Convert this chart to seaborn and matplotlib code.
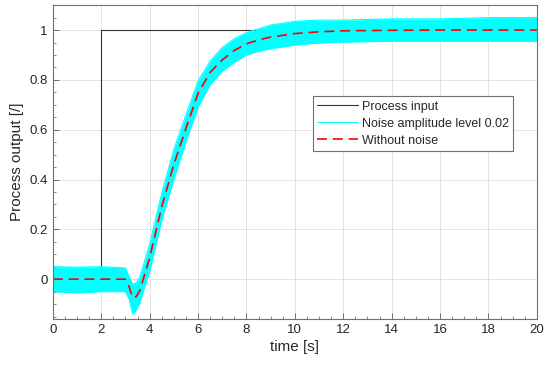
import matplotlib
matplotlib.use('Agg')
import matplotlib.pyplot as plt
import pandas as pd
import seaborn as sns

# Process input (unit step at t = 2 s)
t_input = [0, 2, 20]
u_input = [0, 1, 1]

# Process output without noise
t_out = [0, 1, 2, 3.0, 3.15, 3.3, 3.45, 3.6, 3.8, 4.0, 4.5, 5.0, 5.5, 6.0,
         6.5, 7.0, 7.5, 8.0, 8.5, 9.0, 10, 11, 12, 14, 16, 18, 20]
y_clean = [0, 0, 0, 0, -0.03, -0.075, -0.07, -0.045, 0.02, 0.085, 0.29, 0.46,
           0.605, 0.745, 0.83, 0.88, 0.918, 0.945, 0.96, 0.972, 0.986, 0.993,
           0.997, 0.999, 1.0, 1.0, 1.0]

# Envelope of the noisy output (noise amplitude level 0.02)
y_noise_hi = [0.05, 0.048, 0.05, 0.045, 0.01, -0.02, -0.015, 0.01, 0.075, 0.14,
              0.345, 0.52, 0.66, 0.795, 0.875, 0.93, 0.965, 0.99, 1.005, 1.02,
              1.035, 1.04, 1.04, 1.045, 1.045, 1.05, 1.05]
y_noise_lo = [-0.05, -0.055, -0.05, -0.05, -0.08, -0.14, -0.125, -0.095, -0.03,
              0.03, 0.235, 0.4, 0.55, 0.69, 0.78, 0.835, 0.87, 0.9, 0.915, 0.925,
              0.94, 0.948, 0.952, 0.955, 0.955, 0.955, 0.955]

df_in = pd.DataFrame({'t': t_input, 'u': u_input})
df_out = pd.DataFrame({'t': t_out, 'y': y_clean, 'hi': y_noise_hi, 'lo': y_noise_lo})

sns.set_theme(style='whitegrid')
plt.rcParams['font.family'] = ['Liberation Sans', 'DejaVu Sans']

fig, ax = plt.subplots(figsize=(5.5, 3.69), dpi=100)
fig.subplots_adjust(left=0.096, right=0.976, top=0.986, bottom=0.1355)

sns.lineplot(data=df_in, x='t', y='u', ax=ax, color='#333333', linewidth=0.8,
             drawstyle='steps-post', estimator=None, label='Process input', zorder=2)
ax.fill_between(df_out['t'], df_out['lo'], df_out['hi'], color='#00ffff',
                linewidth=0, zorder=3)
sns.lineplot(data=df_out, x='t', y='hi', ax=ax, color='#00ffff', linewidth=0.8,
             estimator=None, label='Noise amplitude level 0.02', zorder=3)
sns.lineplot(data=df_out, x='t', y='lo', ax=ax, color='#00ffff', linewidth=0.8,
             estimator=None, zorder=3)
sns.lineplot(data=df_out, x='t', y='y', ax=ax, color='#ff0000', linewidth=1.2,
             estimator=None, label='Without noise', zorder=4)
ax.lines[-1].set_dashes([6, 3.5])

ax.set_xlim(0, 20)
ax.set_ylim(-0.16, 1.1)
ax.set_xticks(range(0, 21, 2))
ax.set_yticks([0, 0.2, 0.4, 0.6, 0.8, 1])
ax.set_yticklabels(['0', '0.2', '0.4', '0.6', '0.8', '1'])
ax.set_xticks([i * 0.5 for i in range(41)], minor=True)
ax.set_yticks([-0.15 + i * 0.05 for i in range(25)], minor=True)

ax.grid(True, which='major', color='#e3e3e3', linewidth=0.7)
ax.grid(False, which='minor')
ax.set_axisbelow(True)
for s in ax.spines.values():
    s.set_color('#707070')
    s.set_linewidth(0.8)
    s.set_zorder(5)
ax.tick_params(which='both', direction='in', colors='#707070', labelcolor='#262626',
               labelsize=9.5, top=False, right=False, bottom=True, left=True)
ax.tick_params(which='major', length=4, width=0.7)
ax.tick_params(which='minor', length=2.5, width=0.6)

ax.set_xlabel('time [s]', fontsize=11, color='#262626', labelpad=3)
ax.set_ylabel('Process output [/]', fontsize=11, color='#262626', labelpad=4)

leg = ax.legend(loc='upper left', bbox_to_anchor=(0.537, 0.71), borderaxespad=0,
                fontsize=9, handlelength=3.3, handletextpad=0.3, labelspacing=0.4,
                borderpad=0.35, fancybox=False, framealpha=1, edgecolor='#707070')
leg.get_frame().set_linewidth(0.8)
leg.set_zorder(6)

fig.savefig('out.png', dpi=100)
